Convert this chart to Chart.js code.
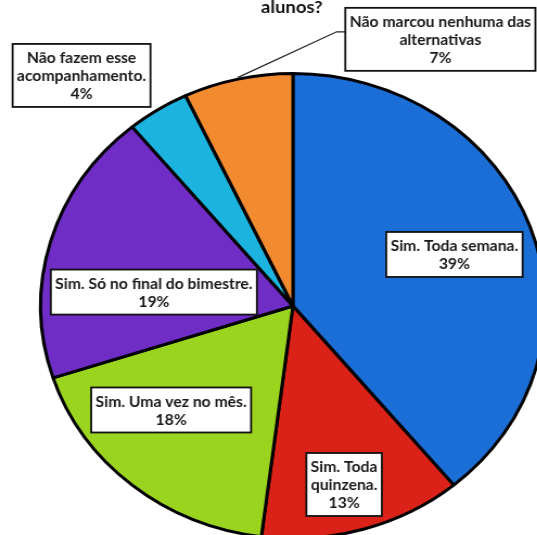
<!DOCTYPE html>
<html lang="pt">
<head>
  <meta charset="UTF-8" />
  <title>Acompanhamento</title>
  <script src="https://cdn.jsdelivr.net/npm/chart.js"></script>
  <style>
    body {
      margin: 0;
      background: #fff;
      overflow: hidden;
    }
    .wrap {
      width: 560px;
      height: 600px;
      transform: scaleX(1.085);
      transform-origin: 0 0;
    }
  </style>
</head>
<body>
  <div class="wrap">
    <canvas id="pieChart" width="560" height="600"></canvas>
  </div>

  <script>
    const titleText = "alunos?";
    const categories = [
      "Sim. Toda semana.",
      "Sim. Toda quinzena.",
      "Sim. Uma vez no mês.",
      "Sim. Só no final do bimestre.",
      "Não fazem esse acompanhamento.",
      "Não marcou nenhuma das alternativas"
    ];
    const shares = [39, 13, 18, 19, 4, 7];
    const colors = ["#1b6ed6", "#da2218", "#9ad41f", "#6f2dc6", "#1cb4df", "#f28a30"];

    // where each label box sits: fraction of radius, angle from top (deg), wrap width
    const labelPos = [
      { r: 0.673, a: 70.9, wrap: 220 },
      { r: 0.789, a: 165.2, wrap: 75 },
      { r: 0.654, a: 227.2, wrap: 220 },
      { r: 0.551, a: 276.2, wrap: 240 },
      { r: 1.29, a: 319.8, wrap: 125 },
      { r: 1.279, a: 27.0, wrap: 185, leader: true }
    ];

    function wrapText(ctx, text, maxW) {
      const words = text.split(" ");
      const lines = [];
      let cur = "";
      words.forEach(w => {
        const test = cur ? cur + " " + w : w;
        if (cur && ctx.measureText(test).width > maxW) {
          lines.push(cur);
          cur = w;
        } else {
          cur = test;
        }
      });
      if (cur) lines.push(cur);
      return lines;
    }

    const boxLabels = {
      id: "boxLabels",
      afterDatasetsDraw(chart) {
        const ctx = chart.ctx;
        const arcs = chart.getDatasetMeta(0).data;
        const cx = arcs[0].x, cy = arcs[0].y;
        const R = arcs[0].outerRadius + 1.5;

        ctx.save();
        ctx.fillStyle = "#111";
        ctx.font = "bold 17px Lato";
        ctx.textAlign = "center";
        ctx.textBaseline = "alphabetic";
        ctx.fillText(titleText, cx - 1, 13);

        ctx.font = "bold 14.5px Lato";
        const lineH = 18;
        categories.forEach((cat, i) => {
          const p = labelPos[i];
          const lines = wrapText(ctx, cat, p.wrap);
          lines.push(shares[i] + "%");
          const tw = Math.max(...lines.map(l => ctx.measureText(l).width));
          const bw = tw + 8;
          const bh = lines.length * lineH + 9;
          const rad = p.a * Math.PI / 180;
          const bx = cx + Math.sin(rad) * p.r * R - bw / 2;
          const by = cy - Math.cos(rad) * p.r * R - bh / 2;

          if (p.leader) {
            const arc = arcs[i];
            const mid = (arc.startAngle + arc.endAngle) / 2;
            ctx.beginPath();
            ctx.strokeStyle = "#222";
            ctx.lineWidth = 1.2;
            ctx.moveTo(cx + Math.cos(mid) * R, cy + Math.sin(mid) * R);
            ctx.lineTo(bx - 8, by + 24);
            ctx.lineTo(bx, by + 24);
            ctx.stroke();
          }

          ctx.fillStyle = "#fff";
          ctx.fillRect(bx, by, bw, bh);
          ctx.strokeStyle = "#111";
          ctx.lineWidth = 1.8;
          ctx.strokeRect(bx, by, bw, bh);

          ctx.fillStyle = "#1a1a1a";
          ctx.textBaseline = "middle";
          lines.forEach((l, k) => {
            ctx.fillText(l, bx + bw / 2, by + 4.5 + lineH * k + lineH / 2 + 1);
          });
        });
        ctx.restore();
      }
    };

    new Chart(document.getElementById("pieChart"), {
      type: "pie",
      data: {
        labels: categories,
        datasets: [{
          data: shares,
          backgroundColor: colors,
          borderColor: "#000",
          borderWidth: 3
        }]
      },
      options: {
        responsive: false,
        animation: false,
        layout: {
          padding: { left: 36, right: 56, top: 72, bottom: 60 }
        },
        plugins: {
          legend: { display: false },
          tooltip: { enabled: false }
        }
      },
      plugins: [boxLabels]
    });
  </script>
</body>
</html>
